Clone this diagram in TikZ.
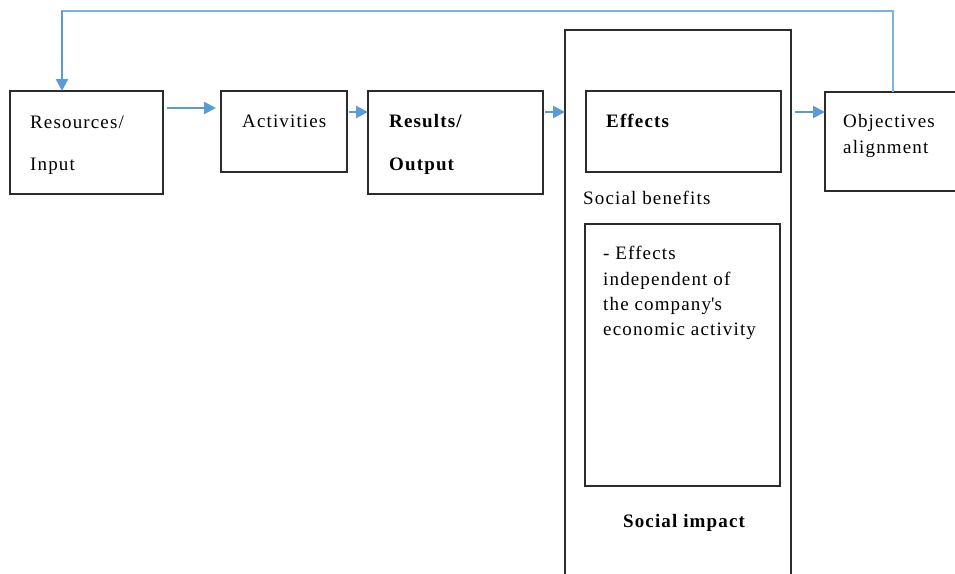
\documentclass[tikz,border=0pt]{standalone}
\usepackage{fontspec}
\setmainfont{Liberation Serif}[LetterSpace=6]
\usetikzlibrary{arrows.meta}
\definecolor{flowblue}{HTML}{5B9BD5}
\definecolor{loopblue}{HTML}{7FB0E0}
\definecolor{boxline}{HTML}{2B2B2B}
\begin{document}
\begin{tikzpicture}[x=1pt,y=-1pt,
  blockbox/.style={draw=boxline,line width=1.3pt},
  label/.style={anchor=base west,inner sep=0pt,font=\fontsize{19}{21}\selectfont},
  boldlabel/.style={label,font=\fontsize{19}{21}\selectfont\bfseries},
  flow/.style={draw=flowblue,line width=2.2pt,-{Triangle[length=12pt,width=12pt]}},
  loopline/.style={draw=loopblue,line width=1.2pt}]
\useasboundingbox (0,0) rectangle (955,573);
\fill[white] (0,0) rectangle (955,573);

% main chain of boxes
\draw[blockbox] (10,91) rectangle (163,194);
\draw[blockbox] (221,91) rectangle (347,172);
\draw[blockbox] (368,91) rectangle (543,194);
\draw[blockbox] (825,92) rectangle (980,191);

% social impact column (open at the bottom)
\draw[blockbox] (565,600) -- (565,30) -- (791,30) -- (791,600);
\draw[blockbox] (586,91) rectangle (781,172);
\draw[blockbox] (585,224) rectangle (780,486);

% texts
\node[label] (t-res1) at (30,128) {Resources/};
\node[label] (t-res2) at (30,170) {Input};
\node[label] (t-act) at (242,127) {Activities};
\node[boldlabel] (t-out1) at (389,127) {Results/};
\node[boldlabel] (t-out2) at (389,170) {Output};
\node[boldlabel] (t-eff) at (606,127) {Effects};
\node[label] (t-soc) at (583,204) {Social benefits};
\node[label] (t-i1) at (603,259) {- Effects};
\node[label] (t-i2) at (603,285) {independent of};
\node[label] (t-i3) at (603,310) {the company\textquotesingle s};
\node[label] (t-i4) at (603,335) {economic activity};
\node[boldlabel,anchor=base] (t-imp) at (684,527) {Social impact};
\node[label] (t-obj1) at (843,127) {Objectives};
\node[label] (t-obj2) at (843,153) {alignment};

% arrows between boxes
\coordinate (a1s) at (167,108); \coordinate (a1e) at (216,108);
\coordinate (a2s) at (349,112); \coordinate (a2e) at (368,112);
\coordinate (a3s) at (545,112); \coordinate (a3e) at (565,112);
\coordinate (a4s) at (795,112); \coordinate (a4e) at (825,112);
\draw[flow] (a1s) -- (a1e);
\draw[flow] (a2s) -- (a2e);
\draw[flow] (a3s) -- (a3e);
\draw[flow] (a4s) -- (a4e);

% feedback loop from objectives back to resources
\coordinate (fb-start) at (893,92);
\coordinate (fb-r) at (893,11);
\coordinate (fb-l) at (62,11);
\coordinate (fb-end) at (62,91);
\draw[loopline] (fb-start) -- (fb-r) -- (fb-l) -- (62,20);
\draw[flow] (62,10.5) -- (fb-end);
\end{tikzpicture}
\end{document}
